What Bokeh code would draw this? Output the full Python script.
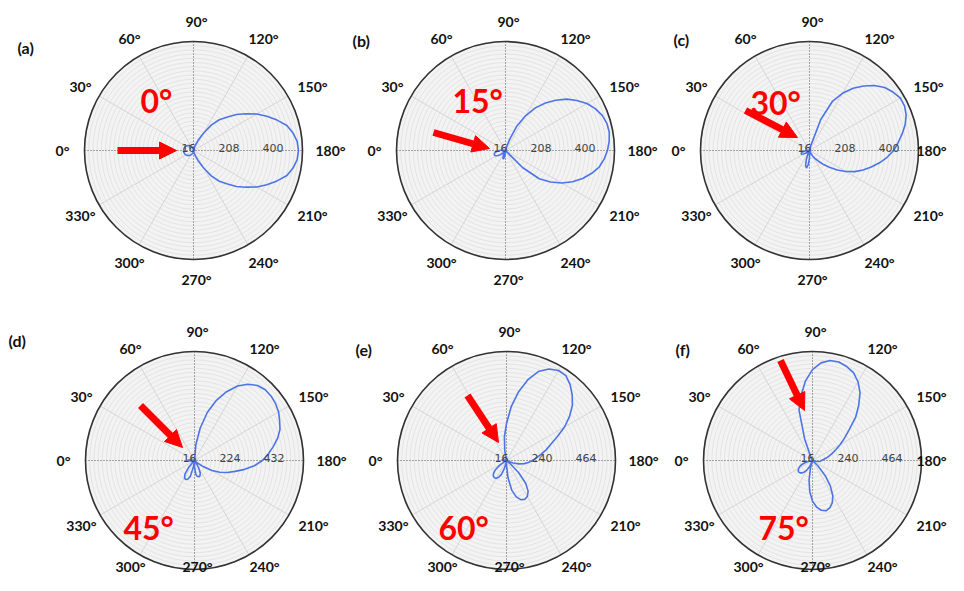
import numpy as np
from bokeh.plotting import figure
from bokeh.models import Range1d, Arrow, NormalHead
from bokeh.embed import file_html
from bokeh.resources import INLINE
from bokeh.core.properties import value

# ---------------- data ----------------
THETA_DEG = list(range(0, 360, 5))

R_A = [60, 59, 59, 58, 57, 56, 54, 52, 49, 47, 44, 41, 38, 34, 31, 27, 24, 20,
       16, 18, 23, 31, 42, 68, 103, 151, 191, 221, 260, 295, 335, 369, 404, 438, 457, 470,
       474, 470, 457, 438, 404, 369, 335, 295, 260, 221, 191, 151, 103, 68, 42, 31, 23, 18,
       16, 20, 24, 27, 31, 34, 38, 41, 44, 47, 49, 52, 54, 56, 57, 58, 59, 59]

R_B = [44, 33, 24, 18, 16, 16, 16, 16, 16, 16, 16, 16, 16, 16, 16, 16, 16, 16,
       16, 16, 16, 25, 64, 134, 191, 243, 287, 326, 365, 396, 426, 448, 465, 474,
       476, 470, 461, 448, 431, 404, 374, 339, 300, 256, 208, 121, 16, 16, 16, 16, 16, 16,
       16, 16, 22, 34, 48, 55, 48, 34, 22, 18, 24, 33, 44, 54, 62, 67, 68, 66, 61, 54]

R_C = [28, 21, 17, 16, 16, 16, 16, 16, 16, 16, 16, 16, 16, 16, 16, 16, 16, 16,
       16, 16, 16, 38, 160, 252, 304, 348, 383, 417, 444, 461, 474, 474, 465, 448,
       426, 404, 383, 356, 326, 295, 265, 234, 199, 164, 129, 103, 77, 60, 47, 29, 16, 16,
       16, 24, 50, 78, 94, 82, 55, 30, 18, 16, 16, 18, 26, 37, 47, 54, 55, 52, 45, 36]

R_D = [49, 45, 32, 20, 16, 16, 16, 16, 16, 16, 16, 16, 16, 16, 16, 16, 16, 16,
       16, 92, 172, 252, 319, 375, 423, 456, 479, 489, 489, 484, 475, 460, 446, 423, 394, 366,
       337, 300, 257, 215, 181, 148, 111, 68, 35, 16, 16, 24, 52, 80, 92, 96, 92, 80,
       45, 18, 50, 95, 110, 115, 110, 95, 61, 26, 16, 16, 16, 16, 16, 16, 22, 38]

R_E = [36, 41, 36, 24, 16, 16, 16, 16, 16, 16, 16, 16, 16, 16, 16, 16, 67, 138,
       204, 291, 372, 444, 500, 530, 545, 543, 520, 489, 454, 408, 357, 301, 255, 225, 194, 169,
       148, 128, 108, 82, 52, 26, 16, 16, 38, 104, 169, 208, 228, 235, 228, 208, 169, 104,
       38, 16, 27, 59, 91, 110, 120, 123, 120, 110, 91, 59, 27, 16, 16, 16, 16, 24]

R_F = [16, 16, 16, 16, 16, 16, 16, 16, 16, 16, 16, 16, 16, 36, 133, 281, 352, 423,
       479, 515, 533, 535, 525, 510, 479, 438, 382, 326, 260, 215, 179, 148, 123, 103, 87, 72,
       62, 57, 47, 31, 16, 16, 16, 16, 16, 56, 117, 175, 223, 254, 273, 281, 273, 254,
       223, 175, 117, 56, 16, 51, 71, 87, 98, 105, 108, 105, 98, 87, 71, 51, 30, 16]

TICKS_A = [16, 208, 400]
TICKS_B = [16, 208, 400]
TICKS_C = [16, 208, 400]
TICKS_D = [16, 224, 432]
TICKS_E = [16, 240, 464]
TICKS_F = [16, 240, 464]

ANGLE_TICKS = list(range(0, 360, 30))
PANEL_LETTERS = ["(a)", "(b)", "(c)", "(d)", "(e)", "(f)"]
PUMP_LABELS = ["0\u00b0", "15\u00b0", "30\u00b0", "45\u00b0", "60\u00b0", "75\u00b0"]

SERIES = [R_A, R_B, R_C, R_D, R_E, R_F]
TICKS = [TICKS_A, TICKS_B, TICKS_C, TICKS_D, TICKS_E, TICKS_F]

# ---------------- layout (reference pixel coordinates) ----------------
W, H = 948, 575
CENTERS = [(193, 150), (505, 150), (809, 150), (194, 460), (506, 460), (812, 460)]
R_OUT = 109
TICK_PX = 44
N_RINGS = 26
LBL_RX, LBL_RY, LBL_DX = 134, 129, 3
LBL_MAX_X, LBL_MAX_Y = W - 17, H - 9
LETTER_POS = [(17, 47), (352, 40), (673, 39), (8, 340), (355, 349), (675, 349)]
PUMP_POS = [(140, 100), (452, 100), (750, 102), (123, 527), (438, 527), (758, 527)]
ARROWS = [((117, 150), (176, 150)), ((433, 132), (489, 148)), ((745, 110), (797, 137)),
          ((140, 405), (182, 447)), ((467, 395), (498, 442)), ((780, 360), (804, 410))]

FONT = value("Lato")

p = figure(width=W, height=H, x_range=Range1d(0, W), y_range=Range1d(H, 0),
           output_backend="svg", toolbar_location=None, min_border=0,
           x_axis_type=None, y_axis_type=None)
p.xgrid.visible = False
p.ygrid.visible = False
p.outline_line_color = None
p.background_fill_color = "white"
p.border_fill_color = "white"

for k in range(6):
    cx, cy = CENTERS[k]
    ticks = TICKS[k]
    step = ticks[1] - ticks[0]

    # background disc and fine rings
    p.circle(x=[cx], y=[cy], radius=R_OUT, fill_color="#f3f3f3", line_color=None)
    rr = np.linspace(R_OUT / N_RINGS, R_OUT, N_RINGS)
    p.circle(x=[cx] * N_RINGS, y=[cy] * N_RINGS, radius=rr, fill_color=None,
             line_color="#e0e0e0", line_width=0.8)

    # spokes
    sp = np.deg2rad([a for a in ANGLE_TICKS if a % 90 != 0])
    p.segment(x0=[cx] * len(sp), y0=[cy] * len(sp),
              x1=cx - R_OUT * np.cos(sp), y1=cy - R_OUT * np.sin(sp),
              line_color="#d6d6d6", line_width=1)
    p.segment(x0=[cx - R_OUT, cx], y0=[cy, cy - R_OUT], x1=[cx + R_OUT, cx], y1=[cy, cy + R_OUT],
              line_color="#555555", line_width=1, line_dash="1 2")

    # curve
    th = np.deg2rad(np.array(THETA_DEG + [THETA_DEG[0]], dtype=float))
    r = np.array(SERIES[k] + [SERIES[k][0]], dtype=float)
    rpx = np.clip(r - ticks[0], 0, None) * TICK_PX / step
    p.line(cx - rpx * np.cos(th), cy - rpx * np.sin(th), line_color="#4d74e6", line_width=1.6)

    # outer circle
    p.circle(x=[cx], y=[cy], radius=R_OUT, fill_color=None, line_color="#333333", line_width=1.6)

    # radial tick labels
    p.text(x=[cx + i * TICK_PX + 2 for i in range(len(ticks))], y=[cy - 3] * len(ticks),
           text=[str(t) for t in ticks], text_align="right", text_baseline="alphabetic",
           text_font=value("DejaVu Sans"), text_font_size="11px", text_color="#444444")

    # angle labels (kept inside the canvas)
    at = np.deg2rad(ANGLE_TICKS)
    lx_ = np.minimum(cx - LBL_RX * np.cos(at) + LBL_DX, LBL_MAX_X)
    ly_ = np.minimum(cy - LBL_RY * np.sin(at), LBL_MAX_Y)
    p.text(x=lx_, y=ly_,
           text=[f"{a}\u00b0" for a in ANGLE_TICKS], text_align="center", text_baseline="middle",
           text_font=FONT, text_font_style="bold", text_font_size="14px", text_color="#111111")

    # panel letter
    lx, ly = LETTER_POS[k]
    p.text(x=[lx], y=[ly], text=[PANEL_LETTERS[k]], text_align="left", text_baseline="alphabetic",
           text_font=FONT, text_font_style="bold", text_font_size="16px", text_color="#111111")

    # pump angle label
    px_, py_ = PUMP_POS[k]
    p.text(x=[px_], y=[py_], text=[PUMP_LABELS[k]], text_align="left", text_baseline="alphabetic",
           text_font=FONT, text_font_style="bold", text_font_size="32px", text_color="#ff0000")

    # arrow
    (x0, y0), (x1, y1) = ARROWS[k]
    p.add_layout(Arrow(x_start=x0, y_start=y0, x_end=x1, y_end=y1,
                       line_color="#ff0000", line_width=7,
                       end=NormalHead(size=17, fill_color="#ff0000", line_color="#ff0000")))

with open("out.html", "w", encoding="utf-8") as f:
    f.write(file_html(p, INLINE))
